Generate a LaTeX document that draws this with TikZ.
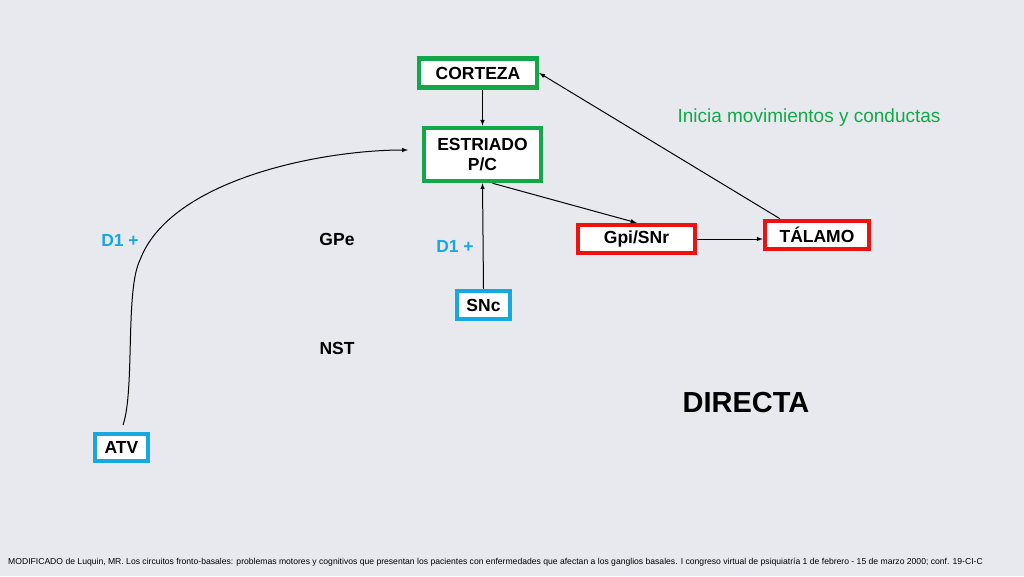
\documentclass[tikz,border=0pt]{standalone}
\usepackage{fontspec}
\setmainfont{Liberation Sans}
\definecolor{bg}{HTML}{E7E9EE}
\definecolor{gbox}{HTML}{12A84A}
\definecolor{rbox}{HTML}{EE1111}
\definecolor{bbox}{HTML}{18A8E0}
\begin{document}
\begin{tikzpicture}[x=1pt,y=-1pt,
 bx/.style={draw=#1,line width=4.5pt,fill=white,font=\bfseries\fontsize{17.5}{20}\selectfont,align=center,inner sep=0pt},
 lb/.style={font=\bfseries\fontsize{17.5}{20}\selectfont},
 ar/.style={-latex,line width=1pt}]
\fill[bg] (0,0) rectangle (1024,576);
\useasboundingbox (0,0) rectangle (1024,576);
\node[bx=gbox,minimum width=118pt,minimum height=29pt] (cor) at (478,73) {CORTEZA};
\node[bx=gbox,minimum width=117pt,minimum height=53pt] (est) at (482.5,154.5) {ESTRIADO\\P/C};
\node[bx=rbox,minimum width=117pt,minimum height=28pt] (gpi) at (636.5,239) {Gpi/SNr};
\node[bx=rbox,minimum width=104pt,minimum height=28pt] (tal) at (817,235) {TÁLAMO};
\node[bx=bbox,minimum width=53pt,minimum height=28pt] (snc) at (483.5,305) {SNc};
\node[bx=bbox,minimum width=53pt,minimum height=27pt] (atv) at (121.5,447.5) {ATV};
\coordinate (a0) at (123,425);
\coordinate (a1) at (408,150);
\draw[ar] (est.north |- cor.south) -- (est.north);
\draw[ar] ([xshift=10pt]est.south) -- (gpi.north);
\draw[ar] (gpi.east) -- (gpi.east -| tal.west);
\draw[ar] ([xshift=-37pt]tal.north) -- (cor.east);
\draw[ar] (snc.north) -- (est.south);
\draw[ar] (a0) .. controls (135,390) and (125,290) .. (140,260) .. controls (170,180) and (320,150) .. (a1);
\node[text=bbox,lb] (d1a) at (120,240) {D1 +};
\node[text=bbox,lb] (d1b) at (455,246) {D1 +};
\node[lb] (gpe) at (337,239) {GPe};
\node[lb] (nst) at (337,348) {NST};
\node[text=gbox,font=\fontsize{19}{22}\selectfont] (ini) at (809,118) {Inicia movimientos y conductas};
\node[font=\bfseries\fontsize{29}{34}\selectfont] (dir) at (746,403) {DIRECTA};
\node[anchor=west,font=\fontsize{8.6}{10}\selectfont,inner sep=0pt] (ref) at (8,562) {MODIFICADO de Luquin, MR. Los circuitos fronto-basales: problemas motores y cognitivos que presentan los pacientes con enfermedades que afectan a los ganglios basales. I congreso virtual de psiquiatría 1 de febrero - 15 de marzo 2000; conf. 19-CI-C};
\end{tikzpicture}
\end{document}
